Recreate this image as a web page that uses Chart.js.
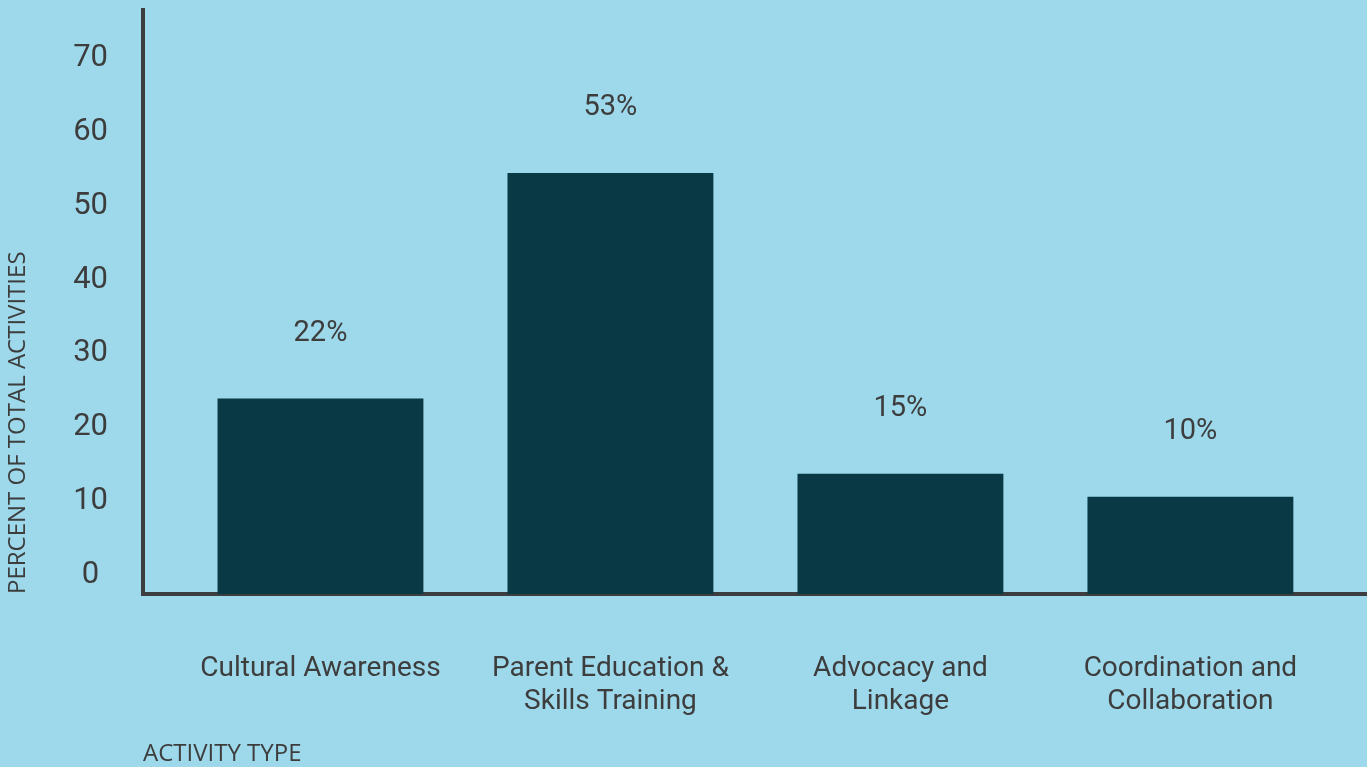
<!DOCTYPE html>
<html>
<head>
<meta charset="utf-8">
<script src="https://cdn.jsdelivr.net/npm/chart.js@4.4.1/dist/chart.umd.min.js"></script>
<style>
  html, body { margin: 0; padding: 0; background: #9dd9eb; }
  #wrap { width: 1367px; height: 767px; position: relative; }
</style>
</head>
<body>
<div id="wrap"><canvas id="chart1"></canvas></div>
<script>
// data
var categories = [
    ['Cultural Awareness'],
    ['Parent Education &', 'Skills Training'],
    ['Advocacy and', 'Linkage'],
    ['Coordination and', 'Collaboration']
];
var values = [23.5, 54.1, 13.3, 10.2];
var valueLabels = ['22%', '53%', '15%', '10%'];
var yTicks = [0, 10, 20, 30, 40, 50, 60, 70];

var textColor = '#3d3d3d';
var axisColor = '#3b3d3f';

var points = values.map(function (v, i) { return { x: i, y: v }; });

// percent labels above the bars
var valueLabelPlugin = {
    id: 'valueLabels',
    afterDatasetsDraw: function (chart) {
        var ctx = chart.ctx;
        var meta = chart.getDatasetMeta(0);
        ctx.save();
        ctx.font = '29px Roboto';
        ctx.fillStyle = textColor;
        ctx.textAlign = 'center';
        ctx.textBaseline = 'middle';
        meta.data.forEach(function (bar, i) {
            ctx.fillText(valueLabels[i], bar.x, bar.y - 65);
        });
        ctx.restore();
    }
};

var ctx1 = document.getElementById('chart1').getContext('2d');
var chart1 = new Chart(ctx1, {
    type: 'bar',
    data: {
        datasets: [{
            data: points,
            backgroundColor: '#0a3946',
            base: -3,
            categoryPercentage: 0.71,
            barPercentage: 1
        }]
    },
    options: {
        responsive: true,
        maintainAspectRatio: false,
        animation: false,
        layout: { padding: { top: 10, left: 0, right: 0, bottom: 0 } },
        plugins: {
            legend: { display: false },
            tooltip: { enabled: false }
        },
        scales: {
            x: {
                type: 'linear',
                offset: false,
                min: -0.612,
                max: 3.609,
                grid: { display: false },
                border: { display: true, color: axisColor, width: 4 },
                afterFit: function (scale) {
                    scale.height = 173;
                    scale.paddingLeft = 0;
                    scale.paddingRight = 0;
                },
                ticks: {
                    stepSize: 1,
                    includeBounds: false,
                    autoSkip: false,
                    maxRotation: 0,
                    padding: 50,
                    color: textColor,
                    font: { family: 'Roboto', size: 28, lineHeight: 1.18 },
                    callback: function (value) {
                        return categories[value] || '';
                    }
                },
                title: {
                    display: true,
                    text: 'ACTIVITY TYPE',
                    align: 'start',
                    color: textColor,
                    font: { family: 'Open Sans', size: 24, lineHeight: 1.08 },
                    padding: { top: 20, bottom: 0 }
                }
            },
            y: {
                min: -3,
                max: 76.2,
                grid: { display: false },
                border: { display: true, color: axisColor, width: 4 },
                afterBuildTicks: function (scale) {
                    scale.ticks = yTicks.map(function (v) { return { value: v }; });
                },
                afterFit: function (scale) {
                    scale.width = 143;
                    scale.paddingTop = 0;
                    scale.paddingBottom = 0;
                },
                ticks: {
                    stepSize: 10,
                    includeBounds: false,
                    crossAlign: 'center',
                    padding: 27,
                    labelOffset: 3,
                    color: textColor,
                    font: { family: 'Roboto', size: 31 }
                },
                title: {
                    display: true,
                    text: 'PERCENT OF TOTAL ACTIVITIES',
                    align: 'start',
                    color: textColor,
                    font: { family: 'Open Sans', size: 24, lineHeight: 1.2 },
                    padding: { top: 4, bottom: 10 }
                }
            }
        }
    },
    plugins: [valueLabelPlugin]
});
</script>
</body>
</html>
